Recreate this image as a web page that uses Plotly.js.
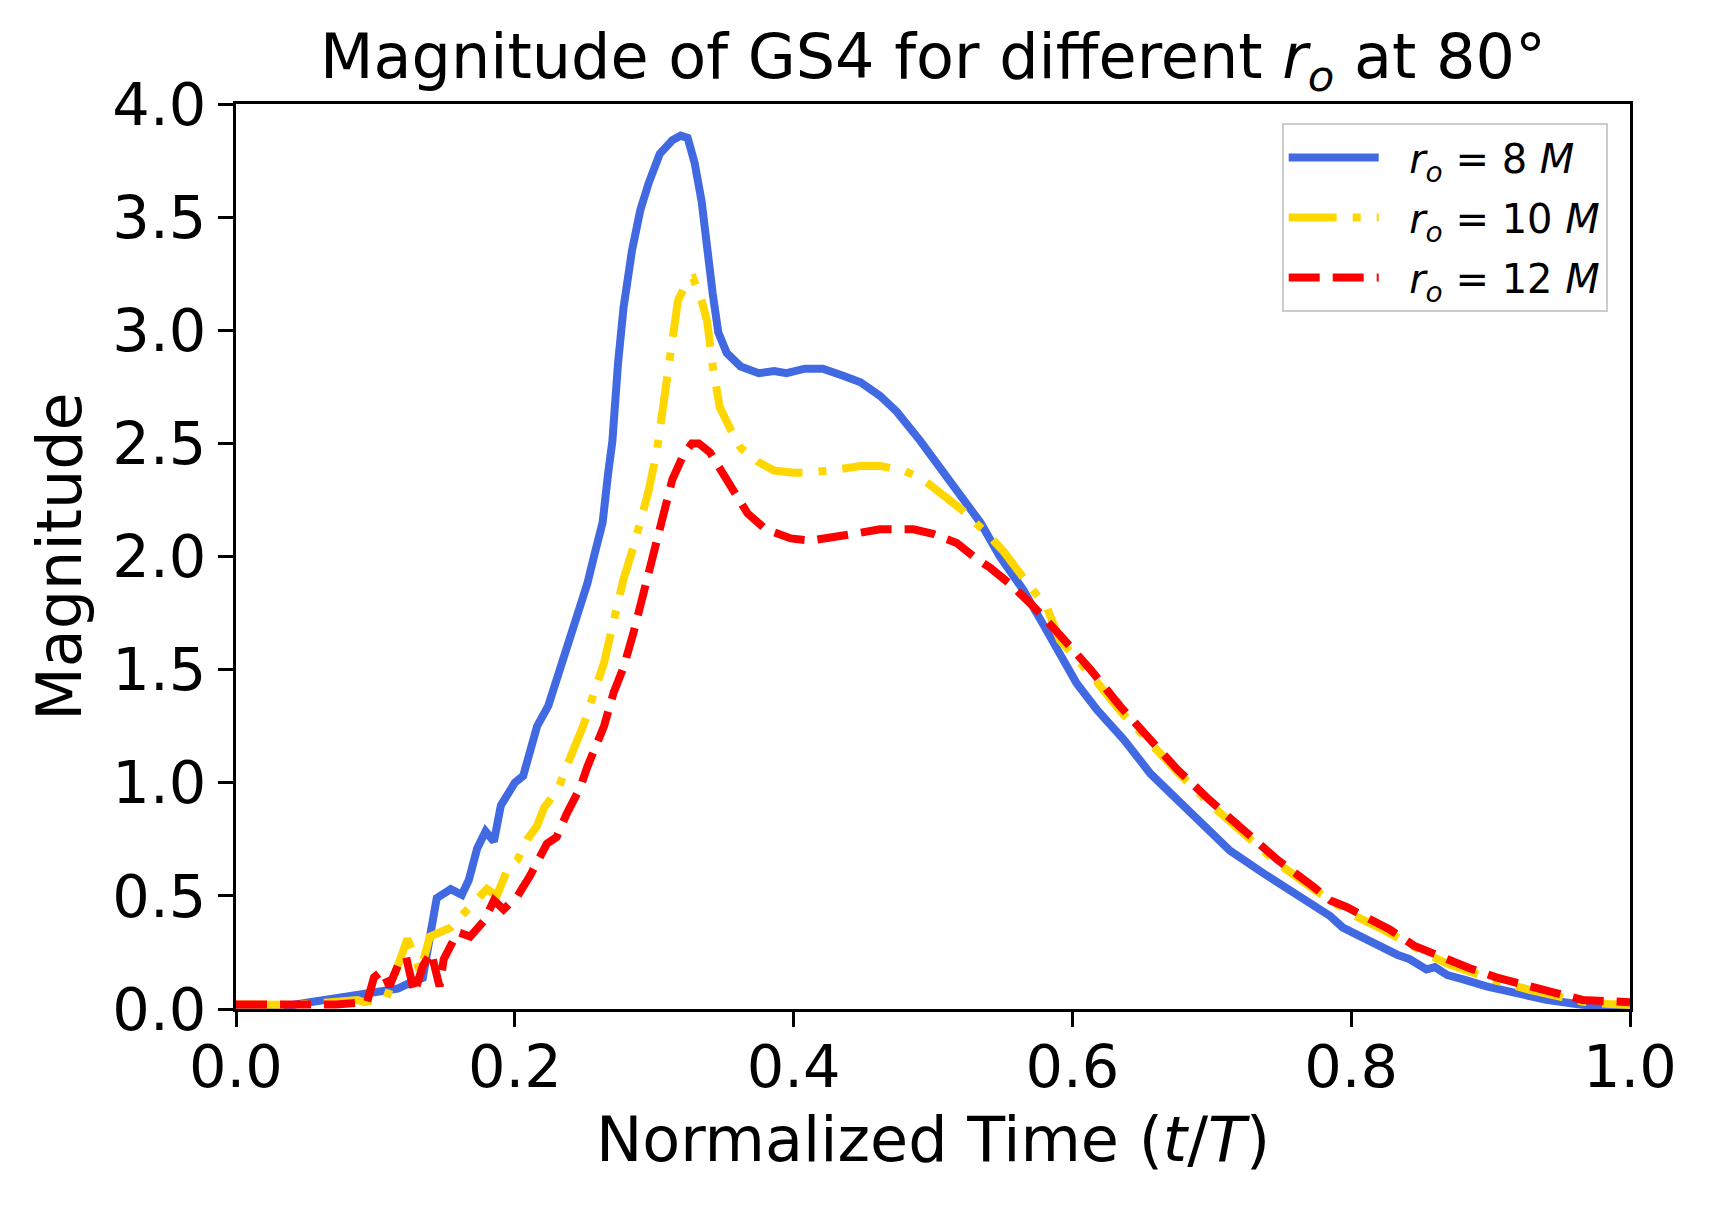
<!DOCTYPE html>
<html>
<head>
<meta charset="utf-8">
<script src="https://cdn.plot.ly/plotly-3.0.1.min.js"></script>
<style>
  html, body { margin: 0; padding: 0; background: #ffffff; }
  #chart { width: 1710px; height: 1205px; }
</style>
</head>
<body>
<div id="chart"></div>
<script>
// Magnitude of GS4 at 80 deg
const t8 = [0.0, 0.02, 0.035, 0.053, 0.068, 0.084, 0.101, 0.116, 0.125, 0.134, 0.14, 0.144, 0.154, 0.162, 0.167, 0.173, 0.179, 0.185, 0.19, 0.2, 0.206, 0.216, 0.224, 0.233, 0.243, 0.252, 0.258, 0.263, 0.267, 0.27, 0.274, 0.278, 0.284, 0.29, 0.296, 0.304, 0.313, 0.319, 0.324, 0.329, 0.334, 0.338, 0.342, 0.346, 0.352, 0.362, 0.375, 0.386, 0.395, 0.408, 0.421, 0.435, 0.448, 0.462, 0.474, 0.491, 0.507, 0.522, 0.534, 0.548, 0.565, 0.579, 0.589, 0.603, 0.618, 0.637, 0.656, 0.67, 0.694, 0.713, 0.737, 0.761, 0.785, 0.794, 0.809, 0.833, 0.842, 0.854, 0.86, 0.869, 0.881, 0.897, 0.917, 0.94, 0.964, 0.981, 1.0];
const mag8 = [0.01, 0.012, 0.012, 0.03, 0.045, 0.063, 0.077, 0.09, 0.116, 0.138, 0.35, 0.49, 0.53, 0.505, 0.57, 0.71, 0.785, 0.74, 0.9, 1.0, 1.03, 1.25, 1.34, 1.51, 1.69, 1.88, 2.03, 2.15, 2.37, 2.51, 2.85, 3.1, 3.35, 3.53, 3.65, 3.78, 3.84, 3.86, 3.85, 3.74, 3.57, 3.35, 3.16, 2.99, 2.9, 2.84, 2.81, 2.82, 2.81, 2.83, 2.83, 2.8, 2.77, 2.71, 2.64, 2.51, 2.38, 2.25, 2.15, 2.0, 1.85, 1.7, 1.59, 1.44, 1.32, 1.19, 1.04, 0.955, 0.81, 0.7, 0.6, 0.5, 0.41, 0.36, 0.31, 0.24, 0.22, 0.175, 0.185, 0.15, 0.13, 0.1, 0.072, 0.041, 0.02, 0.008, 0.0];

const t10 = [0.0, 0.019, 0.044, 0.068, 0.087, 0.092, 0.108, 0.116, 0.123, 0.129, 0.132, 0.139, 0.145, 0.154, 0.163, 0.173, 0.18, 0.187, 0.195, 0.202, 0.209, 0.216, 0.221, 0.226, 0.231, 0.237, 0.243, 0.249, 0.258, 0.264, 0.27, 0.278, 0.285, 0.29, 0.296, 0.302, 0.308, 0.313, 0.317, 0.324, 0.328, 0.334, 0.338, 0.342, 0.347, 0.355, 0.362, 0.374, 0.386, 0.4, 0.407, 0.426, 0.448, 0.462, 0.479, 0.493, 0.505, 0.52, 0.539, 0.551, 0.568, 0.582, 0.591, 0.613, 0.634, 0.656, 0.675, 0.699, 0.722, 0.747, 0.773, 0.79, 0.8, 0.82, 0.845, 0.857, 0.871, 0.885, 0.904, 0.928, 0.947, 0.966, 0.985, 1.0];
const mag10 = [0.02, 0.02, 0.019, 0.03, 0.04, 0.03, 0.05, 0.19, 0.31, 0.22, 0.16, 0.32, 0.34, 0.36, 0.42, 0.48, 0.53, 0.5, 0.62, 0.66, 0.75, 0.81, 0.89, 0.93, 0.97, 1.07, 1.15, 1.25, 1.42, 1.53, 1.69, 1.9, 2.04, 2.16, 2.29, 2.47, 2.73, 2.96, 3.13, 3.22, 3.23, 3.13, 3.04, 2.84, 2.66, 2.56, 2.48, 2.42, 2.38, 2.37, 2.37, 2.38, 2.4, 2.4, 2.38, 2.34, 2.28, 2.21, 2.1, 2.02, 1.88, 1.77, 1.63, 1.48, 1.32, 1.17, 1.05, 0.905, 0.775, 0.645, 0.53, 0.46, 0.42, 0.36, 0.27, 0.235, 0.195, 0.165, 0.125, 0.085, 0.055, 0.032, 0.022, 0.018];

const t12 = [0.0, 0.02, 0.044, 0.072, 0.094, 0.099, 0.105, 0.11, 0.116, 0.122, 0.128, 0.134, 0.14, 0.146, 0.149, 0.159, 0.168, 0.178, 0.185, 0.192, 0.202, 0.211, 0.223, 0.23, 0.237, 0.247, 0.252, 0.258, 0.264, 0.271, 0.278, 0.285, 0.292, 0.299, 0.306, 0.313, 0.321, 0.327, 0.332, 0.34, 0.345, 0.355, 0.367, 0.38, 0.398, 0.412, 0.426, 0.443, 0.462, 0.486, 0.5, 0.517, 0.529, 0.541, 0.555, 0.572, 0.59, 0.613, 0.634, 0.656, 0.675, 0.699, 0.722, 0.747, 0.773, 0.785, 0.797, 0.82, 0.828, 0.845, 0.857, 0.871, 0.885, 0.904, 0.915, 0.928, 0.947, 0.966, 0.975, 0.995, 1.0];
const mag12 = [0.02, 0.02, 0.015, 0.02, 0.03, 0.14, 0.17, 0.1, 0.19, 0.23, 0.07, 0.19, 0.25, 0.1, 0.22, 0.34, 0.32, 0.39, 0.48, 0.44, 0.5, 0.59, 0.73, 0.76, 0.86, 0.98, 1.07, 1.15, 1.25, 1.4, 1.51, 1.66, 1.84, 2.01, 2.17, 2.34, 2.45, 2.5, 2.5, 2.46, 2.41, 2.31, 2.19, 2.12, 2.08, 2.07, 2.08, 2.1, 2.12, 2.12, 2.1, 2.06, 2.0, 1.95, 1.88, 1.78, 1.66, 1.5, 1.34, 1.19, 1.06, 0.92, 0.79, 0.66, 0.54, 0.48, 0.45, 0.38, 0.35, 0.28, 0.25, 0.21, 0.18, 0.14, 0.12, 0.1, 0.07, 0.04, 0.035, 0.03, 0.03];

// leading no-break spaces give the gap between legend line and label
const seriesNames = [
  "\u00a0\u00a0<i>r</i><sub><i>o</i></sub> = 8 <i>M</i>",
  "\u00a0\u00a0<i>r</i><sub><i>o</i></sub> = 10 <i>M</i>",
  "\u00a0\u00a0<i>r</i><sub><i>o</i></sub> = 12 <i>M</i>"
];

const FONT = "DejaVu Sans, Liberation Sans, sans-serif";

const traces = [
  {
    type: "scatter", mode: "lines", name: seriesNames[0], legendgroup: "r8",
    x: t8, y: mag8,
    line: { color: "#4169e1", width: 8 }
  },
  {
    type: "scatter", mode: "lines", name: seriesNames[1], legendgroup: "r10",
    x: t10, y: mag10,
    line: { color: "#ffd700", width: 8, dash: "48px,16px,8px,16px" }
  },
  {
    type: "scatter", mode: "lines", name: seriesNames[2], legendgroup: "r12",
    x: t12, y: mag12,
    line: { color: "#ff0000", width: 8, dash: "31px,13px" }
  }
];

const axisStyle = {
  showgrid: false,
  zeroline: false,
  showline: true,
  linecolor: "#000000",
  linewidth: 3,
  mirror: true,
  ticks: "outside",
  ticklen: 15,
  tickwidth: 3,
  tickcolor: "#000000",
  tickfont: { family: FONT, size: 59, color: "#000000" },
  tickformat: ".1f"
};

const layout = {
  width: 1710,
  height: 1205,
  paper_bgcolor: "#ffffff",
  plot_bgcolor: "#ffffff",
  margin: { l: 236, r: 80, t: 104, b: 196 },
  font: { family: FONT, color: "#000000" },
  title: {
    text: "Magnitude of GS4 for different <i>r</i><sub><i>o</i></sub> at 80°",
    font: { family: FONT, size: 62, color: "#000000" },
    xref: "paper", x: 0.5, xanchor: "center",
    yref: "container", y: 0.953, yanchor: "middle"
  },
  xaxis: Object.assign({}, axisStyle, {
    range: [0, 1],
    dtick: 0.2,
    tick0: 0,
    ticklabelstandoff: -11,
    title: { text: "Normalized Time (<i>t</i>/<i>T</i>)", font: { family: FONT, size: 62, color: "#000000" }, standoff: 18 }
  }),
  yaxis: Object.assign({}, axisStyle, {
    range: [0, 4],
    dtick: 0.5,
    tick0: 0,
    title: { text: "Magnitude", font: { family: FONT, size: 62, color: "#000000" }, standoff: 11 }
  }),
  showlegend: true,
  legend: {
    x: 0.984, xanchor: "right",
    y: 0.979, yanchor: "top",
    bgcolor: "rgba(255,255,255,0.8)",
    bordercolor: "#cccccc",
    borderwidth: 2,
    font: { family: FONT, size: 40, color: "#000000" },
    itemwidth: 90,
    tracegroupgap: 5
  }
};

Plotly.newPlot("chart", traces, layout, { displayModeBar: false, staticPlot: true });
</script>
</body>
</html>
